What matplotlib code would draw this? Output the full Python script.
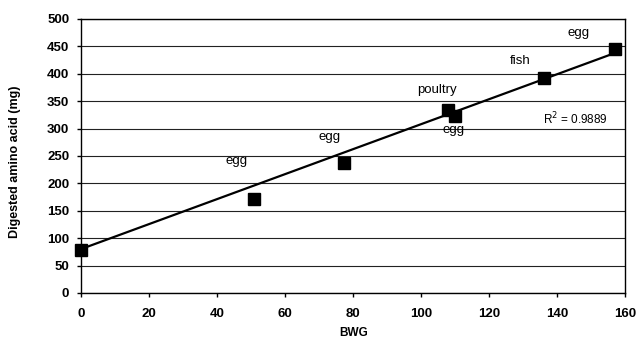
import numpy as np
import matplotlib
matplotlib.use('Agg')
import matplotlib.pyplot as plt

plt.rcParams['font.family'] = ['Liberation Sans', 'DejaVu Sans']

# data
bwg = [0, 51, 77.4, 108, 110, 136, 157]
amino = [78, 171, 237, 333, 323, 393, 446]

# point labels (text, x, y)
label_text = ['egg', 'egg', 'poultry', 'egg', 'fish', 'egg']
label_x = [45.8, 73.2, 104.6, 109.5, 129.1, 146.2]
label_y = [240, 285, 370, 297, 423, 474]

# trendline as drawn in the picture
trend_x = [0, 157]
trend_y = [80, 438]
r2_text = 'R$^2$ = 0.9889'

fig = plt.figure(figsize=(6.38, 3.39), dpi=100)
ax = fig.add_axes([0.127, 0.136, 0.853, 0.808])

ax.set_xlim(0, 160)
ax.set_ylim(0, 500)
ax.set_xticks(np.arange(0, 161, 20))
ax.set_yticks(np.arange(0, 501, 50))
ax.yaxis.grid(True, color='#222222', linewidth=0.8)
ax.set_axisbelow(True)

ax.plot(trend_x, trend_y, color='black', linewidth=1.6, zorder=3)
ax.plot(bwg, amino, linestyle='none', marker='s', markersize=8.5,
        color='black', zorder=4, clip_on=False)

for t, x, y in zip(label_text, label_x, label_y):
    ax.text(x, y, t, ha='center', va='center', fontsize=9.5)
ax.text(135.8, 317, r2_text, ha='left', va='center', fontsize=8.5)

for s in ax.spines.values():
    s.set_color('black')
    s.set_linewidth(1.0)
ax.tick_params(direction='out', length=3, width=1, labelsize=9.5)
ax.tick_params(axis='x', pad=8)
ax.tick_params(axis='y', pad=5.5)
for lab in ax.get_xticklabels() + ax.get_yticklabels():
    lab.set_fontweight('bold')

ax.set_xlabel('BWG', fontsize=8.5, fontweight='bold', labelpad=5)
ax.set_ylabel('Digested amino acid (mg)', fontsize=9, fontweight='bold')
ax.yaxis.set_label_coords(-0.110, 0.48)

fig.savefig('out.png', dpi=100)
